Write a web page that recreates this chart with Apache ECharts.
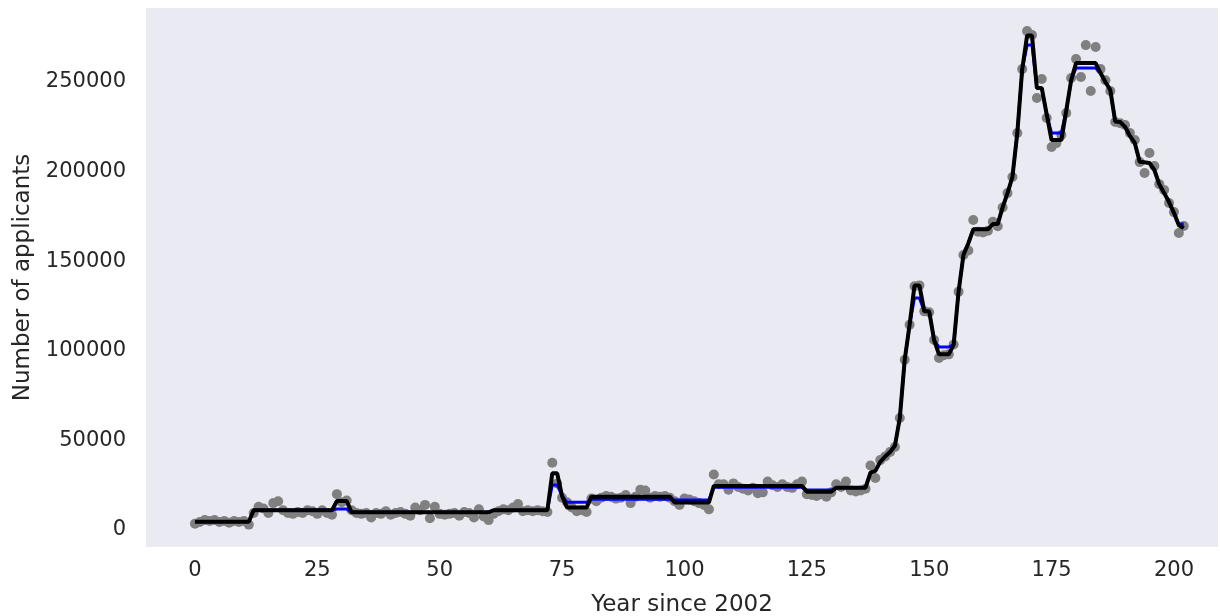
<!DOCTYPE html>
<html>
<head>
<meta charset="utf-8">
<script src="https://cdn.jsdelivr.net/npm/echarts@6/dist/echarts.min.js"></script>
<style>
html,body{margin:0;padding:0;background:#ffffff;}
#chart{width:1220px;height:616px;}
</style>
</head>
<body>
<div id="chart"></div>
<script>
// Observed applicants per year index (0..202)
const applicants = [
3500,4500,5500,5000,5500,4500,5000,4000,5000,4500,
5000,3000,9500,13000,12000,9500,15000,16000,11000,9500,
9000,10000,9500,11000,10500,9000,11000,9500,8500,20000,
15500,16500,11000,9500,9000,9500,7000,9500,9000,10500,
8500,9500,10000,9000,8000,12500,11000,14000,6500,13000,
9000,8500,9000,9500,8000,10000,9500,7000,11500,7500,
5500,9000,10500,11500,11000,12500,14500,10500,11000,10500,
11000,10500,10000,37500,26000,18000,15500,12500,10500,11000,
10000,17500,16000,18000,19000,18500,17500,18000,19500,15000,
18500,22500,22000,18000,19000,18500,19000,18000,16000,14000,
17500,17000,16000,15000,14000,11500,31000,25500,25500,22500,
26000,24000,23000,22000,23500,20500,21000,27000,25000,24000,
25500,24000,23500,25500,27000,20000,19500,19000,20000,18500,
21000,25500,24000,27000,22000,21500,22000,23000,36000,29000,
39000,41000,43500,46300,62500,95000,114500,136000,136500,122000,
121500,106000,96000,97500,98000,103500,133000,153500,156000,173000,
166500,166000,167000,172000,169500,180000,188000,197000,221500,257200,
278400,276200,241100,251700,229900,213700,215900,220400,232700,252200,
262800,252800,270600,245000,269500,257200,251000,245000,227700,227000,
226000,221500,217600,205300,199200,210400,203100,193000,189700,182500,
177400,165700,169600
];

// Blue step fit: breakpoints (year index, value)
const blueX = [0,11,12,28,29,31,32,60,61,72,73,74,75,76,80,81,97,98,105,106,124,125,130,131,137,138,139,140,141,142,143,144,145,146,147,148,149,150,151,152,154,155,156,157,158,159,162,163,164,165,166,167,168,169,170,171,172,173,174,175,177,178,179,180,184,185,186,187,188,189,190,191,192,193,195,196,197,198,199,200,201,202];
const blueY = [4600,4600,11200,11200,11700,11700,9900,9900,11000,11000,25100,25100,19000,15500,15500,17100,17100,16700,16700,23800,23800,22300,22300,23600,23600,32000,33000,38000,41000,43500,47000,62500,95000,114500,129500,129500,122000,122000,106000,102100,102100,103500,133000,153500,160000,167800,167800,170700,170700,180000,188000,197000,221500,257000,270600,270600,246600,246600,232000,221500,221500,234000,251000,257800,257800,255000,250000,245500,228000,227700,225000,220000,216000,205500,204800,200900,193000,188000,183000,177000,170700,170700];

// Black fit: breakpoints (year index, value)
const blackX = [0,11,12,28,29,31,32,60,61,72,73,74,75,76,80,81,97,98,105,106,124,125,130,131,137,138,139,140,141,142,143,144,145,146,147,148,149,150,151,152,154,155,156,157,158,159,162,163,164,165,166,167,168,169,170,171,172,173,174,175,177,178,179,180,184,185,186,187,188,189,190,191,192,193,195,196,197,198,199,200,201,202];
const blackY = [4600,4600,11000,11000,16200,16200,9900,9900,11000,11000,31600,31600,19000,12500,12500,18600,18600,15300,15300,24600,24600,21400,21400,23600,23600,32000,33000,38000,41000,43500,47000,62500,95000,114500,136500,136500,122000,122000,106000,98000,98000,103500,133000,153500,160000,167800,167800,170700,170700,180000,188000,197000,221500,257000,276000,276000,246600,246600,232000,217600,217600,234000,251000,260600,260600,255000,250000,245500,228000,227700,225000,220000,216000,205500,204800,200900,193000,188000,183000,177000,170000,168500];

const xTicks = [0,25,50,75,100,125,150,175,200];
const yTicks = [0,50000,100000,150000,200000,250000];

const scatterData = applicants.map((v,i)=>[i,v]);
const blueData = blueX.map((x,i)=>[x,blueY[i]]);
const blackData = blackX.map((x,i)=>[x,blackY[i]]);

const font = 'DejaVu Sans';
const txt = '#262626';

const chart = echarts.init(document.getElementById('chart'), null, {renderer:'canvas'});
chart.setOption({
  animation:false,
  backgroundColor:'#ffffff',
  grid:{left:146,right:2,top:8,bottom:69,show:true,backgroundColor:'#eaeaf2',borderWidth:0,
    containLabel:false,outerBoundsMode:'none'},
  xAxis:{
    type:'value',min:-10,max:209,
    name:'Year since 2002',nameLocation:'middle',nameGap:47,
    nameTextStyle:{fontFamily:font,fontSize:23,color:txt},
    axisLine:{show:false},axisTick:{show:false},splitLine:{show:false},
    axisLabel:{customValues:xTicks,fontFamily:font,fontSize:21,color:txt,margin:13,
      formatter:v=>String(v)}
  },
  yAxis:{
    type:'value',min:-9500,max:291300,
    name:'Number of applicants',nameLocation:'middle',nameGap:110,
    nameTextStyle:{fontFamily:font,fontSize:23,color:txt},
    axisLine:{show:false},axisTick:{show:false},splitLine:{show:false},
    axisLabel:{customValues:yTicks,fontFamily:font,fontSize:21,color:txt,margin:20,
      padding:[6,0,0,0],formatter:v=>String(v)}
  },
  series:[
    {type:'scatter',data:scatterData,symbolSize:10,itemStyle:{color:'#808080',opacity:1},z:1},
    {type:'line',data:blueData,showSymbol:false,lineStyle:{color:'#0000ff',width:3},z:2},
    {type:'line',data:blackData,showSymbol:false,lineStyle:{color:'#000000',width:4},z:3}
  ]
});
</script>
</body>
</html>
